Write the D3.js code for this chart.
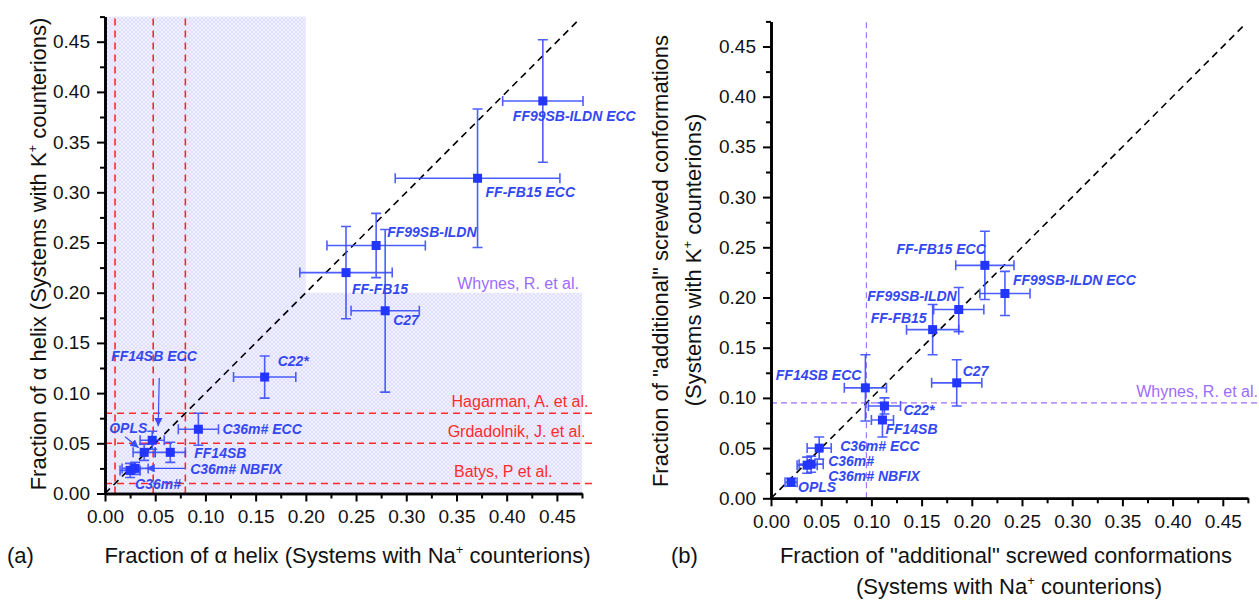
<!DOCTYPE html>
<html><head><meta charset="utf-8">
<script src="https://cdn.jsdelivr.net/npm/d3@7"></script>
<style>
body{margin:0;background:#fff;}
svg{display:block;font-family:"Liberation Sans",Arial,sans-serif;}
</style></head>
<body><svg id="c" width="1259" height="601"></svg>
<script>
// ---------------- DATA ----------------
// Panel (a): fraction of alpha helix
const namesA = ["FF99SB-ILDN ECC","FF-FB15 ECC","FF99SB-ILDN","FF-FB15","C27","C22*","C36m# ECC","FF14SB","FF14SB ECC","OPLS","C36m# NBFIX","C36m#"];
const naA    = [0.436,0.371,0.270,0.240,0.279,0.159,0.093,0.065,0.047,0.039,0.030,0.025];
const kA     = [0.391,0.314,0.247,0.220,0.182,0.116,0.064,0.041,0.053,0.041,0.025,0.023];
const naErrA = [0.040,0.082,0.049,0.046,0.034,0.031,0.020,0.015,0.012,0.011,0.013,0.010];
const kErrA  = [0.061,0.069,0.032,0.046,0.081,0.021,0.016,0.010,0.009,0.008,0.006,0.007];

// Panel (b): fraction of "additional" screwed conformations
const namesB = ["FF-FB15 ECC","FF99SB-ILDN ECC","FF99SB-ILDN","FF-FB15","C27","FF14SB ECC","C22*","FF14SB","C36m# ECC","C36m#","C36m# NBFIX","OPLS"];
const naB    = [0.213,0.233,0.187,0.161,0.185,0.094,0.113,0.111,0.048,0.040,0.036,0.020];
const kB     = [0.232,0.204,0.188,0.168,0.115,0.110,0.092,0.078,0.050,0.034,0.033,0.016];
const naErrB = [0.029,0.025,0.025,0.026,0.025,0.021,0.016,0.011,0.012,0.012,0.010,0.006];
const kErrB  = [0.034,0.022,0.022,0.025,0.023,0.033,0.008,0.017,0.011,0.008,0.008,0.004];

// Axis ticks
const majorTicks = [0.00,0.05,0.10,0.15,0.20,0.25,0.30,0.35,0.40,0.45];
const minorTicks = [0.025,0.075,0.125,0.175,0.225,0.275,0.325,0.375,0.425,0.475];

// Experimental reference values
const refNamesA = ["Hagarman, A. et al.","Grdadolnik, J. et al.","Batys, P et al."];
const refValsA  = [0.08,0.05,0.01];
const refVertA  = [0.08,0.048,0.01];
const whynesA   = 0.20;   // shaded region boundary (Whynes, R. et al.)
const whynesB   = 0.095;  // Whynes, R. et al. in panel (b)
const diagMax   = 0.47;

// ---------------- LAYOUT (label offsets in px) ----------------
const labA = [[-30,20,"start"],[8,19,"start"],[11,-9,"start"],[6,21,"start"],[8,14,"start"],[13,-11,"start"],
              [24,5,"start"],[24,6,"start"],[-41,-79,"start"],[-35,-19,"start"],[55,6,"start"],[5,19,"start"]];
const labB = [[1,-11,"end"],[8,-8,"start"],[-2,-9,"end"],[-6,-7,"end"],[6,-7,"start"],[-4,-8,"end"],
              [19,9,"start"],[3,14,"start"],[21,3,"start"],[17,2,"start"],[21,16,"start"],[7,10,"start"]];
// arrows in panel (a): [fromX, fromY, toX, toY] in data units
const arrowsA = [[0.054,0.115,0.053,0.067],[0.020,0.0566,0.0335,0.0455],[0.0797,0.0251,0.0412,0.0251]];

const svg = d3.select("#c");
const FONT = '"Liberation Sans",Arial,sans-serif';
const BLUE_M = "#2236ff", BLUE_E = "#3a4dff", BLUE_T = "#3348f2";
const RED = "#ff2b2b", PURPLE = "#9c6cff";

// pattern
const defs = svg.append("defs");
const pat = defs.append("pattern").attr("id","hatch").attr("patternUnits","userSpaceOnUse").attr("width",4).attr("height",4);
pat.append("rect").attr("width",4).attr("height",4).attr("fill","#f1f0ff");
pat.append("path").attr("d","M0,0L4,4M4,0L0,4").attr("stroke","#dddaff").attr("stroke-width",0.8);
defs.append("marker").attr("id","ah").attr("viewBox","0 0 10 10").attr("refX",10).attr("refY",5)
  .attr("markerWidth",7).attr("markerHeight",7).attr("orient","auto")
  .append("path").attr("d","M0,0L10,5L0,10z").attr("fill",BLUE_E);

function drawAxes(g, x, y){
  const ax = d3.axisBottom(x).tickValues(majorTicks).tickFormat(d3.format(".2f")).tickSize(8).tickPadding(8).tickSizeOuter(0);
  const ay = d3.axisLeft(y).tickValues(majorTicks).tickFormat(d3.format(".2f")).tickSize(8).tickPadding(7).tickSizeOuter(0);
  const mx = d3.axisBottom(x).tickValues(minorTicks).tickFormat("").tickSize(5).tickSizeOuter(0);
  const my = d3.axisLeft(y).tickValues(minorTicks).tickFormat("").tickSize(5).tickSizeOuter(0);
  const y0 = y(0), x0 = x(0);
  [[ax,"translate(0,"+y0+")"],[mx,"translate(0,"+y0+")"],[ay,"translate("+x0+",0)"],[my,"translate("+x0+",0)"]].forEach(([a,t])=>{
    const s = g.append("g").attr("transform",t).call(a);
    s.select(".domain").attr("stroke","#000").attr("stroke-width",2.6);
    s.selectAll(".tick line").attr("stroke","#000").attr("stroke-width",2);
    s.selectAll(".tick text").attr("font-family",FONT).attr("font-size",19).attr("fill","#111");
  });
}

function drawPoints(g, x, y, na, k, ne, ke, names, lab){
  const idx = d3.range(names.length);
  const cap = 5;
  const eb = g.append("g").attr("stroke",BLUE_E).attr("stroke-width",1.6).attr("fill","none").attr("stroke-opacity",0.9);
  idx.forEach(i=>{
    const cx = x(na[i]), cy = y(k[i]);
    const xl = x(na[i]-ne[i]), xr = x(na[i]+ne[i]);
    const yt = y(k[i]+ke[i]), yb = y(k[i]-ke[i]);
    eb.append("path").attr("d",
      `M${xl},${cy}H${xr}M${xl},${cy-cap}V${cy+cap}M${xr},${cy-cap}V${cy+cap}`+
      `M${cx},${yt}V${yb}M${cx-cap},${yt}H${cx+cap}M${cx-cap},${yb}H${cx+cap}`);
  });
  const s = 9;
  g.append("g").selectAll("rect").data(idx).join("rect")
    .attr("x",i=>x(na[i])-s/2).attr("y",i=>y(k[i])-s/2).attr("width",s).attr("height",s).attr("fill",BLUE_M);
  g.append("g").selectAll("text").data(idx).join("text")
    .attr("x",i=>x(na[i])+lab[i][0]).attr("y",i=>y(k[i])+lab[i][1]).attr("text-anchor",i=>lab[i][2])
    .attr("font-family",FONT).attr("font-size",14).attr("font-weight","bold").attr("font-style","italic")
    .attr("fill",BLUE_T).text(i=>names[i]);
}

function diag(g,x,y){
  g.append("line").attr("x1",x(0)).attr("y1",y(0)).attr("x2",x(diagMax)).attr("y2",y(diagMax))
    .attr("stroke","#000").attr("stroke-width",1.6).attr("stroke-dasharray","7,5");
}

function sup(t, parts){
  parts.forEach(([s,isSup],j)=>{
    const ts = t.append("tspan").text(s);
    if(isSup){ ts.attr("font-size",13).attr("dy",-9); }
    else if(j>0 && parts[j-1][1]){ ts.attr("dy",9); }
  });
}

// ================= PANEL A =================
const xA = d3.scaleLinear([0,0.475],[105,582]);
const yA = d3.scaleLinear([0,0.475],[493.5,16.6]);
const gA = svg.append("g");
gA.append("rect").attr("x",xA(0)).attr("y",yA(0.475)).attr("width",xA(whynesA)-xA(0)).attr("height",yA(0)-yA(0.475)).attr("fill","url(#hatch)");
gA.append("rect").attr("x",xA(0)).attr("y",yA(whynesA)).attr("width",xA(0.475)-xA(0)).attr("height",yA(0)-yA(whynesA)).attr("fill","url(#hatch)");
gA.append("text").attr("x",xA(0.472)).attr("y",yA(whynesA)-4).attr("text-anchor","end")
  .attr("font-family",FONT).attr("font-size",16).attr("fill",PURPLE).text("Whynes, R. et al.");
refValsA.forEach((v,i)=>{
  gA.append("line").attr("x1",xA(0)).attr("x2",xA(0.485)).attr("y1",yA(v)).attr("y2",yA(v))
    .attr("stroke",RED).attr("stroke-width",1.6).attr("stroke-dasharray","7,5");
});
refVertA.forEach(v=>{
  gA.append("line").attr("x1",xA(v)).attr("x2",xA(v)).attr("y1",yA(0)).attr("y2",yA(0.478))
    .attr("stroke",RED).attr("stroke-width",1.6).attr("stroke-dasharray","7,5");
});
const refLabX = [0.4815,0.4785,0.4455];
refNamesA.forEach((n,i)=>{
  gA.append("text").attr("x",xA(refLabX[i])).attr("y",yA(refValsA[i])-6).attr("text-anchor","end")
    .attr("font-family",FONT).attr("font-size",16).attr("fill",RED).text(n);
});
diag(gA,xA,yA);
arrowsA.forEach(a=>{
  gA.append("line").attr("x1",xA(a[0])).attr("y1",yA(a[1])).attr("x2",xA(a[2])).attr("y2",yA(a[3]))
    .attr("stroke",BLUE_E).attr("stroke-width",1.2).attr("marker-end","url(#ah)");
});
drawPoints(gA,xA,yA,naA,kA,naErrA,kErrA,namesA,labA);
drawAxes(gA,xA,yA);
sup(gA.append("text").attr("x",(xA(0)+xA(0.475))/2+4).attr("y",563).attr("text-anchor","middle")
  .attr("font-family",FONT).attr("font-size",22).attr("fill","#111"),
  [["Fraction of \u03b1 helix (Systems with Na",false],["+",true],[" counterions)",false]]);
sup(gA.append("text").attr("transform","translate(46,"+254+") rotate(-90)").attr("text-anchor","middle")
  .attr("font-family",FONT).attr("font-size",22).attr("fill","#111"),
  [["Fraction of \u03b1 helix (Systems with K",false],["+",true],[" counterions)",false]]);
gA.append("text").attr("x",7).attr("y",563).attr("font-family",FONT).attr("font-size",22).attr("fill","#111").text("(a)");

// ================= PANEL B =================
const xB = d3.scaleLinear([0,0.475],[771,1247.9]);
const yB = d3.scaleLinear([0,0.475],[498.3,21.4]);
const gB = svg.append("g");
gB.append("line").attr("x1",xB(whynesB)).attr("x2",xB(whynesB)).attr("y1",yB(0)).attr("y2",yB(0.475))
  .attr("stroke",PURPLE).attr("stroke-width",1.1).attr("stroke-dasharray","6,4");
gB.append("line").attr("x1",xB(0)).attr("x2",1259).attr("y1",yB(whynesB)).attr("y2",yB(whynesB))
  .attr("stroke",PURPLE).attr("stroke-width",1.1).attr("stroke-dasharray","6,4");
gB.append("text").attr("x",1258).attr("y",yB(whynesB)-6).attr("text-anchor","end")
  .attr("font-family",FONT).attr("font-size",16).attr("fill",PURPLE).text("Whynes, R. et al.");
diag(gB,xB,yB);
drawPoints(gB,xB,yB,naB,kB,naErrB,kErrB,namesB,labB);
drawAxes(gB,xB,yB);
gB.append("text").attr("x",1006).attr("y",563).attr("text-anchor","middle")
  .attr("font-family",FONT).attr("font-size",22).attr("fill","#111").text('Fraction of "additional" screwed conformations');
sup(gB.append("text").attr("x",1009).attr("y",594).attr("text-anchor","middle")
  .attr("font-family",FONT).attr("font-size",22).attr("fill","#111"),
  [["(Systems with Na",false],["+",true],[" counterions)",false]]);
gB.append("text").attr("transform","translate(668,261) rotate(-90)").attr("text-anchor","middle")
  .attr("font-family",FONT).attr("font-size",22).attr("fill","#111").text('Fraction of "additional" screwed conformations');
sup(gB.append("text").attr("transform","translate(701,260) rotate(-90)").attr("text-anchor","middle")
  .attr("font-family",FONT).attr("font-size",22).attr("fill","#111"),
  [["(Systems with K",false],["+",true],[" counterions)",false]]);
gB.append("text").attr("x",671).attr("y",563).attr("font-family",FONT).attr("font-size",22).attr("fill","#111").text("(b)");
</script></body></html>
